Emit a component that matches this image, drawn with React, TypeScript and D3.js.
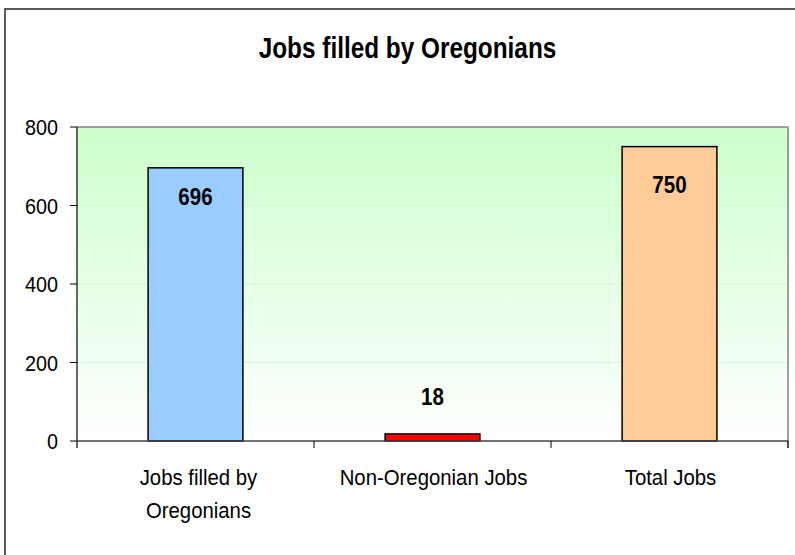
import React from "react";
import * as d3 from "d3";

const categories: string[][] = [["Jobs filled by", "Oregonians"], ["Non-Oregonian Jobs"], ["Total Jobs"]];
const values: number[] = [696, 18, 750];
const barColors: string[] = ["#99ccff", "#ff0000", "#ffcc99"];
const yTicks: number[] = [0, 200, 400, 600, 800];
const title = "Jobs filled by Oregonians";

const W = 795;
const H = 555;
const plot = { left: 77, right: 788, top: 127, bottom: 441 };
const labelDy = [37, -29, 46];

export default function App() {
  const x = d3
    .scaleBand<number>()
    .domain(values.map((_, i) => i))
    .range([plot.left, plot.right])
    .paddingInner(0.6)
    .paddingOuter(0.3);
  const y = d3.scaleLinear().domain([0, 800]).range([plot.bottom, plot.top]);
  const step = (plot.right - plot.left) / values.length;
  const font = "'Liberation Sans', Arial, sans-serif";

  return (
    <svg
      width={W}
      height={H}
      style={{ position: "absolute", left: 0, top: 0, display: "block", background: "#fff" }}
    >
      <defs>
        <linearGradient id="bg" x1="0" y1="0" x2="0" y2="1">
          <stop offset="0" stopColor="#ccffcc" />
          <stop offset="1" stopColor="#ffffff" />
        </linearGradient>
      </defs>
      <rect x={5} y={9} width={900} height={900} fill="#fff" stroke="#333" strokeWidth={1.6} />
      <text
        transform={`translate(${W / 2 + 10},58) scale(0.84,1)`}
        textAnchor="middle"
        fontFamily={font}
        fontWeight="bold"
        fontSize={29}
        fill="#000"
      >
        {title}
      </text>
      <rect
        x={plot.left}
        y={plot.top}
        width={plot.right - plot.left}
        height={plot.bottom - plot.top}
        fill="url(#bg)"
      />
      {yTicks
        .filter((t) => t > 0 && t < 800)
        .map((t) => (
          <line key={t} x1={plot.left} x2={plot.right} y1={y(t)} y2={y(t)} stroke="#d2f5d2" strokeWidth={1} />
        ))}
      <line x1={plot.left} x2={plot.right} y1={plot.top} y2={plot.top} stroke="#808080" strokeWidth={1.5} />
      <line x1={plot.right} x2={plot.right} y1={plot.top} y2={plot.bottom + 7} stroke="#808080" strokeWidth={1.5} />
      {values.map((v, i) => (
        <rect
          key={i}
          x={x(i)}
          y={y(v)}
          width={x.bandwidth()}
          height={y(0) - y(v)}
          fill={barColors[i]}
          stroke="#000"
          strokeWidth={1.5}
        />
      ))}
      <line x1={plot.left} x2={plot.left} y1={plot.top} y2={plot.bottom + 7} stroke="#000" strokeWidth={1.2} />
      <line x1={plot.left} x2={plot.right} y1={plot.bottom} y2={plot.bottom} stroke="#444" strokeWidth={1.5} />
      {yTicks.map((t) => (
        <g key={t}>
          <line x1={plot.left - 7} x2={plot.left} y1={y(t)} y2={y(t)} stroke="#000" strokeWidth={1} />
          <text
            transform={`translate(58,${y(t) + 8}) scale(0.9,1)`}
            textAnchor="end"
            fontFamily={font}
            fontSize={22}
            fill="#000"
          >
            {t}
          </text>
        </g>
      ))}
      {values.map((_, i) => (
        <line
          key={i}
          x1={plot.left + step * (i + 1)}
          x2={plot.left + step * (i + 1)}
          y1={plot.bottom}
          y2={plot.bottom + 7}
          stroke="#000"
          strokeWidth={1}
        />
      ))}
      {categories.map((lines, i) =>
        lines.map((ln, j) => (
          <text
            key={`${i}-${j}`}
            transform={`translate(${(x(i) as number) + x.bandwidth() / 2 + (i === 0 ? 3 : 1)},${485 + j * 33}) scale(0.885,1)`}
            textAnchor="middle"
            fontFamily={font}
            fontSize={23}
            fill="#000"
          >
            {ln}
          </text>
        ))
      )}
      {values.map((v, i) => (
        <text
          key={i}
          transform={`translate(${(x(i) as number) + x.bandwidth() / 2},${y(v) + labelDy[i]}) scale(0.84,1)`}
          textAnchor="middle"
          fontFamily={font}
          fontWeight="bold"
          fontSize={24.5}
          fill="#000"
        >
          {v}
        </text>
      ))}
    </svg>
  );
}
